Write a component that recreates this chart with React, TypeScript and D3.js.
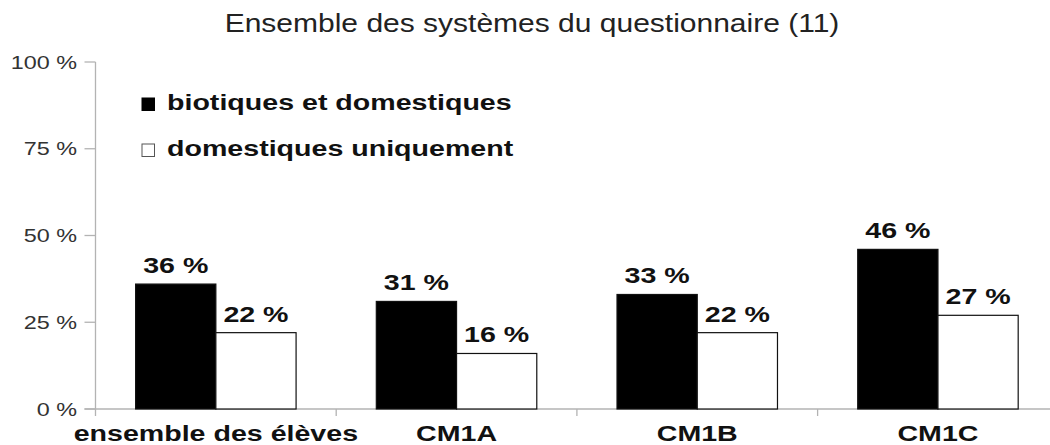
import React from "react";
import * as d3 from "d3";

const categories = ["ensemble des élèves", "CM1A", "CM1B", "CM1C"];
const seriesNames = ["biotiques et domestiques", "domestiques uniquement"];
const biotiques = [36, 31, 33, 46];
const domestiques = [22, 16, 22, 27];
const yTicks = [0, 25, 50, 75, 100];
const title = "Ensemble des systèmes du questionnaire (11)";

const W = 1050;
const H = 445;
const S = 1.3; // horizontal stretch of the text
const FONT = "'Liberation Sans', Arial, sans-serif";

export default function App() {
  const left = 95.5;
  const catW = 240.7;
  const y = d3.scaleLinear().domain([0, 100]).range([409, 62]);
  const x0 = d3
    .scaleBand<string>()
    .domain(categories)
    .range([left, left + catW * categories.length])
    .padding(0);
  const x1 = d3
    .scaleBand<string>()
    .domain(seriesNames)
    .range([0, x0.bandwidth()])
    .paddingInner(0)
    .paddingOuter(0.5);
  const values = [biotiques, domestiques];
  const fills = ["#000000", "#ffffff"];
  const axisColor = "#b3b3b3";
  const sText = (x: number, yy: number, s: number = S) =>
    `translate(${x},${yy}) scale(${s},1)`;

  return (
    <svg
      width={W}
      height={H}
      style={{ position: "absolute", left: 0, top: 0, background: "#fff" }}
      fontFamily={FONT}
    >
      <rect x={0} y={0} width={W} height={H} fill="#fff" />
      <text
        transform={sText(532, 32, 1.2)}
        textAnchor="middle"
        fontSize={25}
        fill="#222"
      >
        {title}
      </text>

      {/* y axis */}
      <line x1={left} x2={left} y1={y(100)} y2={y(0) + 7} stroke={axisColor} strokeWidth={1.3} />
      {yTicks.map((t) => (
        <g key={t}>
          <line x1={left - 11} x2={left} y1={y(t)} y2={y(t)} stroke={axisColor} strokeWidth={1.3} />
          <text
            transform={sText(77, y(t) + 6.5)}
            textAnchor="end"
            fontSize={18}
            fill="#333"
          >
            {`${t} %`}
          </text>
        </g>
      ))}

      {/* x axis */}
      <line x1={left - 11} x2={W} y1={y(0)} y2={y(0)} stroke={axisColor} strokeWidth={1.3} />
      {categories.slice(1).map((c) => (
        <line
          key={c}
          x1={x0(c)!}
          x2={x0(c)!}
          y1={y(0)}
          y2={y(0) + 7}
          stroke={axisColor}
          strokeWidth={1.3}
        />
      ))}

      {/* bars */}
      {categories.map((c, i) => (
        <g key={c}>
          {seriesNames.map((s, j) => {
            const v = values[j][i];
            const bx = x0(c)! + x1(s)!;
            return (
              <g key={s}>
                <rect
                  x={bx}
                  y={y(v)}
                  width={x1.bandwidth()}
                  height={y(0) - y(v)}
                  fill={fills[j]}
                  stroke="#111"
                  strokeWidth={1.2}
                />
                <text
                  transform={sText(bx + x1.bandwidth() / 2, y(v) - 11)}
                  textAnchor="middle"
                  fontSize={22}
                  fontWeight="bold"
                  fill="#111"
                >
                  {`${v} %`}
                </text>
              </g>
            );
          })}
          <text
            transform={sText(x0(c)! + x0.bandwidth() / 2, 441)}
            textAnchor="middle"
            fontSize={22}
            fontWeight="bold"
            fill="#111"
          >
            {c}
          </text>
        </g>
      ))}

      {/* legend */}
      {seriesNames.map((s, j) => (
        <g key={s}>
          <rect
            x={142}
            y={98 + j * 46}
            width={12.5}
            height={12.5}
            fill={fills[j]}
            stroke={j === 0 ? "#000" : "#555"}
            strokeWidth={1}
          />
          <text
            transform={sText(167, 110 + j * 46)}
            fontSize={22}
            fontWeight="bold"
            fill="#111"
          >
            {s}
          </text>
        </g>
      ))}
    </svg>
  );
}
